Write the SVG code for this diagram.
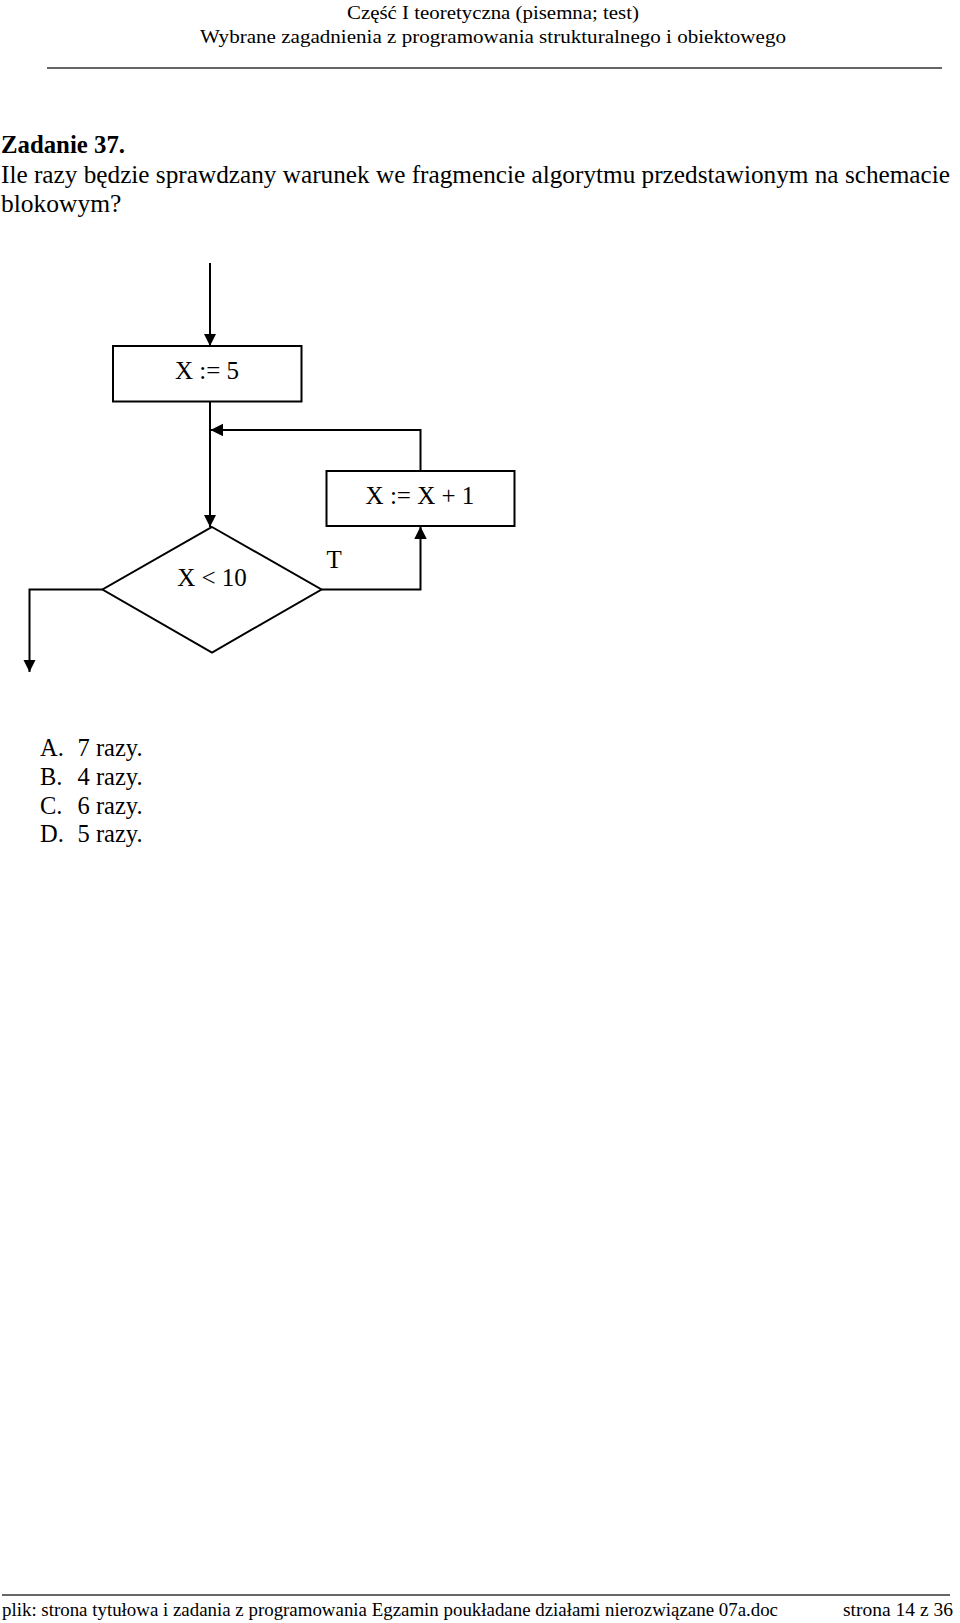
<svg xmlns="http://www.w3.org/2000/svg" width="960" height="1623" viewBox="0 0 960 1623">
<style>
text{font-family:"Liberation Serif","Times New Roman",serif;fill:#000}
.hd{font-size:19px}
.q{font-size:25.5px}
.a{font-size:24.5px}
.n{font-size:25px}
.ft{font-size:19px}
.shape{fill:none;stroke:#000;stroke-width:2}
.conn{fill:none;stroke:#000;stroke-width:2}
.sep{stroke:#333;stroke-width:1.3}
</style>
<defs>
<marker id="arr" markerUnits="userSpaceOnUse" markerWidth="14" markerHeight="14" refX="12.5" refY="6.25" orient="auto">
<path d="M0,0 L12.5,6.25 L0,12.5 z" fill="#000"/>
</marker>
</defs>
<rect width="960" height="1623" fill="#fff"/>
<g id="header">
<text class="hd" x="493" y="18.5" text-anchor="middle" textLength="292" lengthAdjust="spacingAndGlyphs">Część I teoretyczna (pisemna; test)</text>
<text class="hd" x="493" y="43" text-anchor="middle" textLength="586" lengthAdjust="spacingAndGlyphs">Wybrane zagadnienia z programowania strukturalnego i obiektowego</text>
<line class="sep" x1="47" y1="68" x2="942" y2="68"/>
</g>
<g id="question">
<text class="q" x="1" y="153" font-weight="bold" textLength="124" lengthAdjust="spacingAndGlyphs">Zadanie 37.</text>
<text class="q" x="1" y="183" textLength="949" lengthAdjust="spacingAndGlyphs">Ile razy będzie sprawdzany warunek we fragmencie algorytmu przedstawionym na schemacie</text>
<text class="q" x="1" y="211.5">blokowym?</text>
</g>
<g id="connectors">
<path class="conn" d="M210,263 V346" marker-end="url(#arr)"/>
<path class="conn" d="M210,402 V527" marker-end="url(#arr)"/>
<path class="conn" d="M420.5,471 V430 H210.5" marker-end="url(#arr)"/>
<path class="conn" d="M321.5,589.5 H420.5 V526.5" marker-end="url(#arr)"/>
<path class="conn" d="M102.5,589.5 H29.5 V672" marker-end="url(#arr)"/>
</g>
<g id="node-x5">
<rect class="shape" x="113" y="346" width="188.5" height="55.5"/>
<text class="n" x="207" y="378.5" text-anchor="middle">X := 5</text>
</g>
<g id="node-inc">
<rect class="shape" x="326.5" y="471" width="188" height="55"/>
<text class="n" x="420" y="503.5" text-anchor="middle">X := X + 1</text>
</g>
<g id="node-cond">
<polygon class="shape" points="212,527 321.5,589.5 212,652.5 102.5,589.5"/>
<text class="n" x="212" y="586" text-anchor="middle">X &lt; 10</text>
</g>
<g id="label-T">
<text class="n" x="326.5" y="568">T</text>
</g>
<g id="answers">
<text class="a" x="40" y="756">A.</text><text class="a" x="77.5" y="756">7 razy.</text>
<text class="a" x="40" y="785">B.</text><text class="a" x="77.5" y="785">4 razy.</text>
<text class="a" x="40" y="813.5">C.</text><text class="a" x="77.5" y="813.5">6 razy.</text>
<text class="a" x="40" y="842">D.</text><text class="a" x="77.5" y="842">5 razy.</text>
</g>
<g id="footer">
<line class="sep" x1="2" y1="1595" x2="950" y2="1595"/>
<text class="ft" x="2" y="1616" textLength="776" lengthAdjust="spacingAndGlyphs">plik: strona tytułowa i zadania z programowania Egzamin poukładane działami nierozwiązane 07a.doc</text>
<text class="ft" x="843" y="1616" textLength="110" lengthAdjust="spacingAndGlyphs">strona 14 z 36</text>
</g>
</svg>
